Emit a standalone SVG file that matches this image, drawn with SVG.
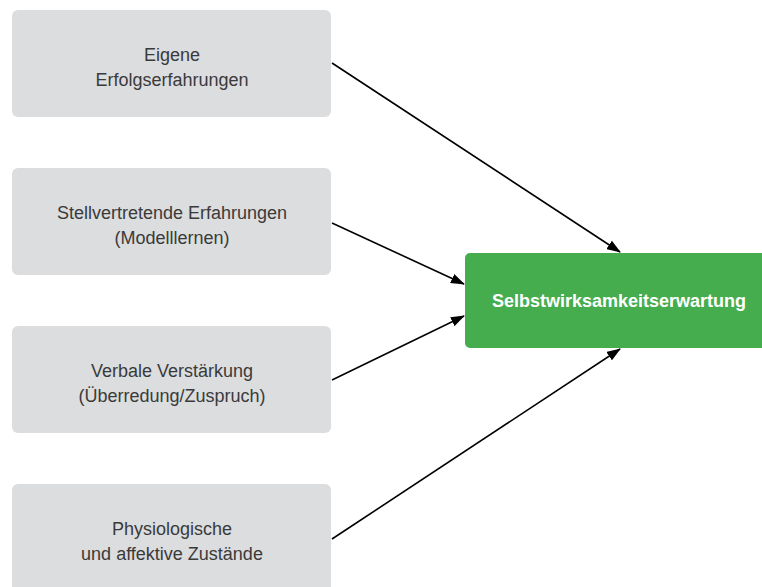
<svg xmlns="http://www.w3.org/2000/svg" width="762" height="587" viewBox="0 0 762 587">
<style>
.box{fill:#dcdddf}
.lbl{font-family:"Liberation Sans",Arial,sans-serif;font-size:18px;fill:#3a3a3a;text-anchor:middle}
.main{fill:#45ad4e}
.mlbl{font-family:"Liberation Sans",Arial,sans-serif;font-size:18px;font-weight:bold;fill:#ffffff;text-anchor:middle}
.con{stroke:#000;stroke-width:1.6;fill:none;marker-end:url(#ah)}
</style>
<defs>
<marker id="ah" markerWidth="14" markerHeight="10" refX="13" refY="5" orient="auto" markerUnits="userSpaceOnUse">
<path d="M0,0 L14,5 L0,10 Z" fill="#000"/>
</marker>
</defs>
<rect width="762" height="587" fill="#ffffff"/>
<g id="n1">
<rect class="box" x="12" y="10" width="319" height="107" rx="6"/>
<text class="lbl" x="172" y="61">Eigene</text>
<text class="lbl" x="172" y="86">Erfolgserfahrungen</text>
</g>
<g id="n2">
<rect class="box" x="12" y="168" width="319" height="107" rx="6"/>
<text class="lbl" x="172" y="219">Stellvertretende Erfahrungen</text>
<text class="lbl" x="172" y="244">(Modelllernen)</text>
</g>
<g id="n3">
<rect class="box" x="12" y="326" width="319" height="107" rx="6"/>
<text class="lbl" x="172" y="377">Verbale Verstärkung</text>
<text class="lbl" x="172" y="402">(Überredung/Zuspruch)</text>
</g>
<g id="n4">
<rect class="box" x="12" y="484" width="319" height="110" rx="6"/>
<text class="lbl" x="172" y="535">Physiologische</text>
<text class="lbl" x="172" y="560">und affektive Zustände</text>
</g>
<g id="n5">
<rect class="main" x="465" y="253" width="305" height="95" rx="5"/>
<text class="mlbl" x="619" y="307">Selbstwirksamkeitserwartung</text>
</g>
<g id="connectors">
<line class="con" x1="332" y1="63" x2="620" y2="252"/>
<line class="con" x1="332" y1="223" x2="464" y2="284"/>
<line class="con" x1="332" y1="380" x2="464" y2="316"/>
<line class="con" x1="332" y1="539" x2="620" y2="349"/>
</g>
</svg>
